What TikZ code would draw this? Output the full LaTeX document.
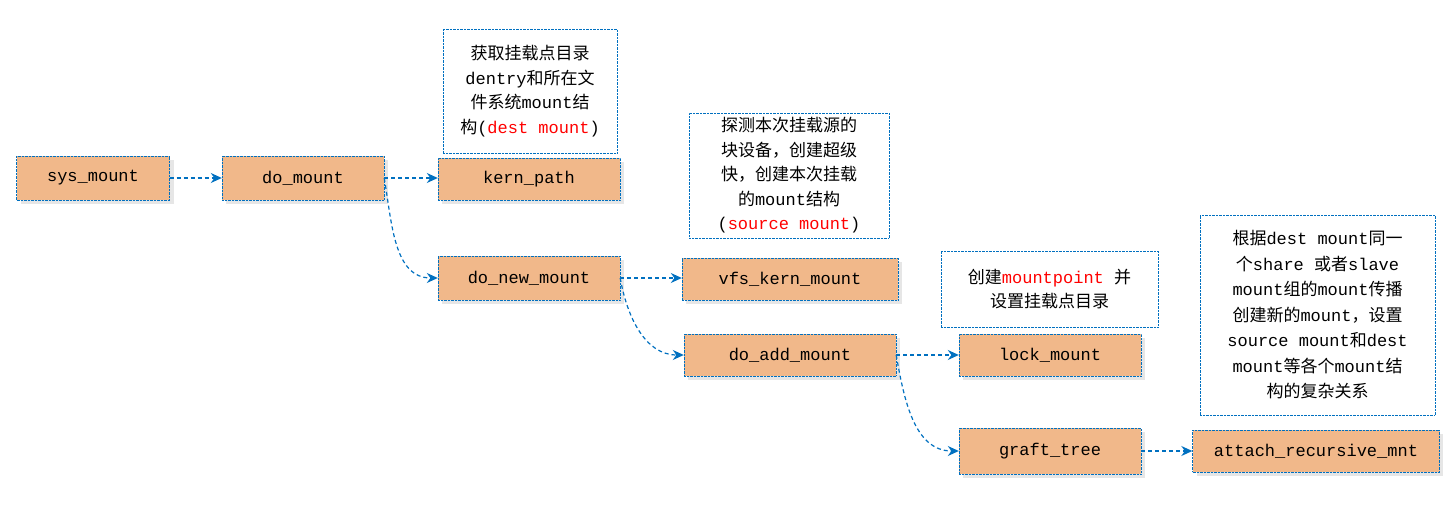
\documentclass[tikz,border=0pt]{standalone}
\usepackage{fontspec}
\setmainfont{Liberation Mono}
\newfontfamily\cjk{Noto Sans CJK SC}
\usetikzlibrary{arrows.meta}
\newcommand{\zh}[1]{{\cjk #1}}
\definecolor{ob}{HTML}{0070C0}
\definecolor{ofill}{HTML}{F1B88A}
\definecolor{shd}{HTML}{E6E6E6}
\tikzset{
  fbox/.style={draw=ob, densely dotted, fill=ofill, minimum height=44pt, inner sep=0pt, font=\fontsize{17}{20}\selectfont, text=black, preaction={draw=none, fill=shd, transform canvas={xshift=4pt,yshift=-4pt}}},
  note/.style={draw=ob, densely dotted, fill=white, inner sep=0pt, align=center, font=\fontsize{17}{24.5}\selectfont},
  conn/.style={draw=ob, very thick, dash pattern=on 4pt off 3pt, -{Stealth[length=11pt,width=10pt]}}
}
\begin{document}
\begin{tikzpicture}[x=1pt,y=-1pt]
\useasboundingbox (0,0) rectangle (1443,511);
\node[fbox, minimum width=153pt] (sys) at (93,178) {sys\_mount};
\node[fbox, minimum width=162pt] (dom) at (303,178) {do\_mount};
\node[fbox, minimum width=182pt, minimum height=42pt] (kp) at (529,179) {kern\_path};
\node[fbox, minimum width=182pt] (dnm) at (529,278) {do\_new\_mount};
\node[fbox, minimum width=216pt, minimum height=42pt] (vfs) at (790,279) {vfs\_kern\_mount};
\node[fbox, minimum width=212pt, minimum height=42pt] (dam) at (790,355) {do\_add\_mount};
\node[fbox, minimum width=182pt, minimum height=42pt] (lm) at (1050,355) {lock\_mount};
\node[fbox, minimum width=182pt, minimum height=46pt] (gt) at (1050,451) {graft\_tree};
\node[fbox, minimum width=247pt, minimum height=42pt] (arm) at (1316,451) {attach\_recursive\_mnt};

\node[note, minimum width=174pt, minimum height=124pt] (n1) at (530,91) {\zh{获取挂载点目录}\\dentry\zh{和所在文}\\\zh{件系统}mount\zh{结}\\\zh{构}(\textcolor{red}{dest mount})};
\node[note, minimum width=200pt, minimum height=125pt] (n2) at (789,175.5) {\zh{探测本次挂载源的}\\\zh{块设备，创建超级}\\\zh{快，创建本次挂载}\\\zh{的}mount\zh{结构}\\(\textcolor{red}{source mount})};
\node[note, minimum width=217pt, minimum height=76pt] (n3) at (1049.5,289) {\zh{创建}\textcolor{red}{mountpoint} \zh{并}\\\zh{设置挂载点目录}};
\node[note, minimum width=235pt, minimum height=200pt, font=\fontsize{17}{25.5}\selectfont] (n4) at (1317.5,315) {\zh{根据}dest mount\zh{同一}\\\zh{个}share \zh{或者}slave\\mount\zh{组的}mount\zh{传播}\\\zh{创建新的}mount\zh{，设置}\\source mount\zh{和}dest\\mount\zh{等各个}mount\zh{结}\\\zh{构的复杂关系}};

\draw[conn] (sys.east) -- (dom.west);
\draw[conn] (dom.east) -- (kp.west |- dom.east);
\draw[conn] (dnm.east) -- (vfs.west |- dnm.east);
\draw[conn] (dam.east) -- (lm.west);
\draw[conn] (gt.east) -- (arm.west);
\draw[conn] (dom.east) to[out=-80,in=180] (dnm.west);
\draw[conn] (dnm.east) to[out=-80,in=180] (dam.west);
\draw[conn] (dam.east) to[out=-80,in=180] (gt.west);
\end{tikzpicture}
\end{document}
